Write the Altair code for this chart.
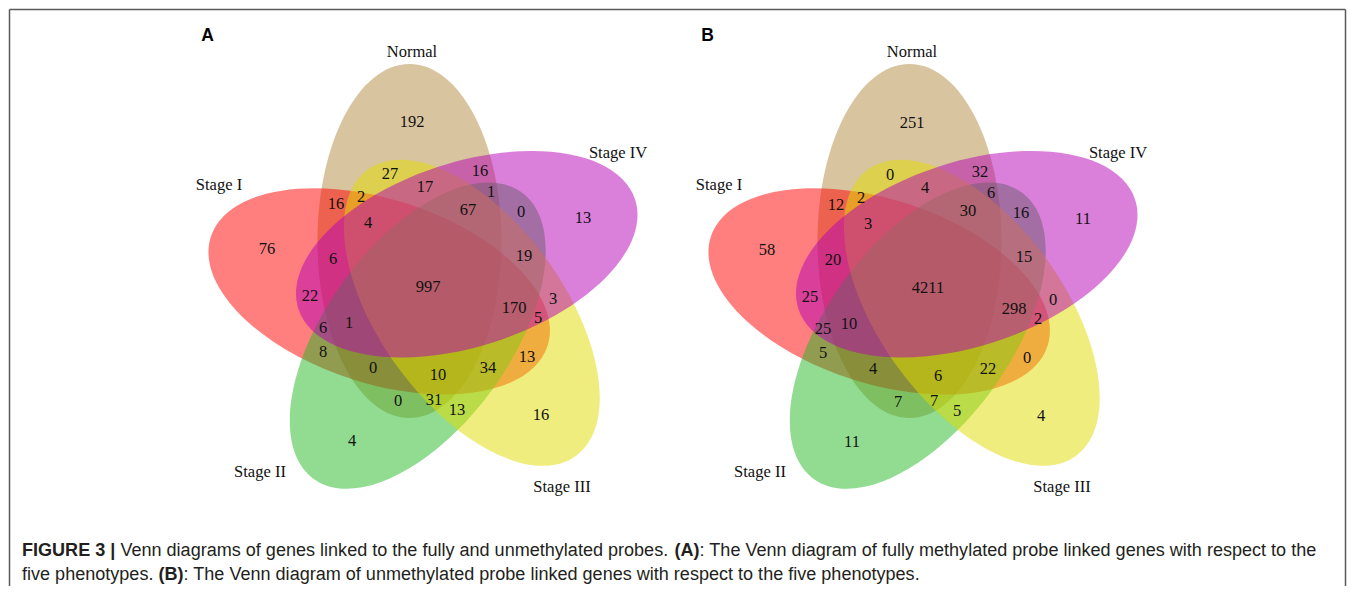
import math
import altair as alt
import pandas as pd

# ---------------- data ----------------
set_names = ["Normal", "Stage I", "Stage II", "Stage III", "Stage IV"]
panel_letters = ["A", "B"]
counts_A = [192, 27, 16, 17, 1, 16, 2, 67, 0, 13, 4, 76, 6, 19, 22, 997,
            3, 170, 5, 6, 1, 8, 13, 0, 34, 10, 0, 31, 13, 16, 4]
counts_B = [251, 0, 32, 4, 6, 12, 2, 30, 16, 11, 3, 58, 20, 15, 25, 4211,
            0, 298, 2, 25, 10, 5, 0, 4, 22, 6, 7, 7, 5, 4, 11]
caption_line1 = [("FIGURE 3 | ", True),
                 ("Venn diagrams of genes linked to the fully and unmethylated probes. ", False),
                 ("(A)", True),
                 (": The Venn diagram of fully methylated probe linked genes with respect to the", False)]
caption_line2 = [("five phenotypes. ", False),
                 ("(B)", True),
                 (": The Venn diagram of unmethylated probe linked genes with respect to the five phenotypes.", False)]

# ---------------- layout / style ----------------
set_colors = ["#B1893D", "#FF0000", "#23B923", "#E2DC00", "#B500B5"]
W, H = 1339, 578
M = 8
panel_dx = [0, 500]
panel_dy = [0, 1]
cx0, cy0 = 429, 287
ring_r = 50
semi_major, semi_minor = 177, 92
base_angle = 113
tilt = 23
region_x = [412, 390, 480, 425, 491, 336, 361, 468, 521, 583, 368, 267, 333, 524, 310,
            428, 553, 514, 538, 323, 349, 323, 527, 373, 488, 438, 398, 434, 457, 541, 352]
region_y = [122, 174, 171, 187, 192, 204, 197, 210, 212, 218, 223, 249, 259, 256, 296,
            287, 299, 308, 318, 328, 323, 352, 357, 368, 368, 375, 401, 400, 410, 415, 441]
label_x = [412, 219, 260, 562, 618]
label_y = [52, 185, 472, 487, 153]
letter_x, letter_y = 207.5, 35.5
cap_x0, cap_right = 22, 1318
cap_y = [551, 575]

serif = "Liberation Serif, Times New Roman, serif"
sans = "Liberation Sans, Arial, Helvetica, sans-serif"

xs = alt.Scale(domain=[M, M + W], nice=False, zero=False)
ys = alt.Scale(domain=[M, M + H], nice=False, zero=False, reverse=True)


def X(f):
    return alt.X(f"{f}:Q", scale=xs, axis=None)


def Y(f):
    return alt.Y(f"{f}:Q", scale=ys, axis=None)


# ellipse shape (unit ellipse, cubic bezier)
k = 0.5523
r = semi_minor / semi_major
def fm(v):
    return f"{v:.4f}"
shape = (f"M 1 0 C 1 {fm(k*r)} {fm(k)} {fm(r)} 0 {fm(r)} "
         f"C {fm(-k)} {fm(r)} -1 {fm(k*r)} -1 0 "
         f"C -1 {fm(-k*r)} {fm(-k)} {fm(-r)} 0 {fm(-r)} "
         f"C {fm(k)} {fm(-r)} 1 {fm(-k*r)} 1 0 Z")

ell_rows = []
order = 0
for p, dx in enumerate(panel_dx):
    for i, name in enumerate(set_names):
        phi = math.radians(base_angle + 72 * i)
        alpha = base_angle + 72 * i - tilt
        ell_rows.append({
            "cx": cx0 + dx + ring_r * math.cos(phi),
            "cy": cy0 - ring_r * math.sin(phi),
            "rot": (-alpha) % 360,
            "color": set_colors[i],
            "ord": order,
        })
        order += 1
ell_df = pd.DataFrame(ell_rows)

ellipses = alt.Chart(ell_df).mark_point(filled=True, opacity=0.5, shape=shape, strokeWidth=0).encode(
    x=X("cx"), y=Y("cy"),
    angle=alt.Angle("rot:Q", scale=None),
    color=alt.Color("color:N", scale=None),
    size=alt.value((2 * semi_major) ** 2),
    order=alt.Order("ord:Q"),
)

num_rows = []
for p, counts in enumerate([counts_A, counts_B]):
    for j, c in enumerate(counts):
        num_rows.append({"x": region_x[j] + panel_dx[p], "y": region_y[j] + panel_dy[p], "t": str(c)})
num_df = pd.DataFrame(num_rows)
numbers = alt.Chart(num_df).mark_text(font=serif, fontSize=16.5, color="#111111",
                                       align="center", baseline="middle").encode(
    x=X("x"), y=Y("y"), text="t:N")

lab_rows = []
for p in range(2):
    for i, name in enumerate(set_names):
        lab_rows.append({"x": label_x[i] + panel_dx[p], "y": label_y[i], "t": name})
lab_df = pd.DataFrame(lab_rows)
labels = alt.Chart(lab_df).mark_text(font=serif, fontSize=16.5, color="#111111",
                                     align="center", baseline="middle").encode(
    x=X("x"), y=Y("y"), text="t:N")

let_df = pd.DataFrame({"x": [letter_x + d for d in panel_dx], "y": [letter_y] * 2, "t": panel_letters})
letters = alt.Chart(let_df).mark_text(font=sans, fontSize=17.5, fontWeight="bold", color="#000000",
                                      align="center", baseline="middle").encode(
    x=X("x"), y=Y("y"), text="t:N")

# caption layout with Arial metrics
AR = {' ': 278, '(': 333, ')': 333, ',': 278, '.': 278, ':': 278, '|': 260,
      'A': 667, 'B': 667, 'F': 611, 'T': 611, 'V': 667,
      'a': 556, 'b': 556, 'c': 500, 'd': 556, 'e': 556, 'f': 278, 'g': 556, 'h': 556,
      'i': 222, 'j': 222, 'k': 500, 'l': 222, 'm': 833, 'n': 556, 'o': 556, 'p': 556,
      'q': 556, 'r': 333, 's': 500, 't': 278, 'u': 556, 'v': 500, 'w': 722, 'x': 500,
      'y': 500, 'z': 500}
AB = {' ': 278, '(': 333, ')': 333, '|': 280, '3': 556, 'A': 722, 'B': 722, 'E': 667,
      'F': 611, 'G': 778, 'I': 278, 'R': 722, 'U': 722}


def em(s, bold):
    tab = AB if bold else AR
    return sum(tab.get(ch, 556) for ch in s) / 1000.0


cap_fs = (cap_right - cap_x0) / sum(em(s, b) for s, b in caption_line1)
cap_rows = []
for li, line in enumerate([caption_line1, caption_line2]):
    xpos = cap_x0
    for s, b in line:
        cap_rows.append({"x": xpos, "y": cap_y[li], "t": s, "bold": b})
        xpos += em(s, b) * cap_fs
cap_df = pd.DataFrame(cap_rows)
cap_reg = alt.Chart(cap_df[~cap_df["bold"]]).mark_text(font=sans, fontSize=cap_fs, color="#231F20",
                                                       align="left", baseline="middle").encode(
    x=X("x"), y=Y("y"), text="t:N")
cap_bold = alt.Chart(cap_df[cap_df["bold"]]).mark_text(font=sans, fontSize=cap_fs, fontWeight="bold",
                                                       color="#231F20", align="left",
                                                       baseline="middle").encode(
    x=X("x"), y=Y("y"), text="t:N")

bx0, by0, bx1, by1 = M + 1.5, M + 1.5, M + W - 1.5, M + H
border_df = pd.DataFrame({"x": [bx0, bx0, bx1], "y": [by0, by0, by0],
                          "x2": [bx0, bx1, bx1], "y2": [by1, by0, by1]})
border = alt.Chart(border_df).mark_rule(color="#5a5a5a", strokeWidth=1.5).encode(
    x=X("x"), y=Y("y"), x2="x2:Q", y2="y2:Q")

chart = alt.layer(border, ellipses, numbers, labels, letters, cap_reg, cap_bold).properties(
    width=W, height=H, padding=0,
    autosize=alt.AutoSizeParams(type="none"),
).configure_view(strokeWidth=0)

chart.save("out.html", embed_options={"renderer": "svg", "actions": False})
